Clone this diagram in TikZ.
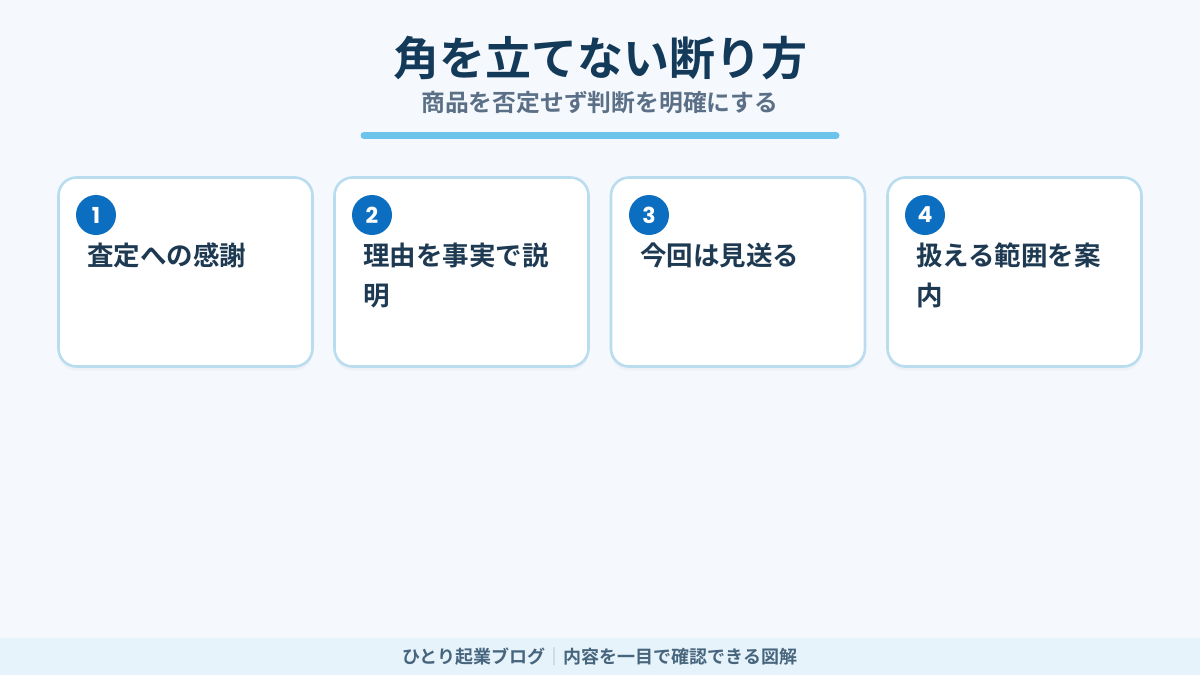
\documentclass[tikz,border=0pt]{standalone}
\usepackage{fontspec}
\setmainfont{Noto Sans CJK JP}[BoldFont={Noto Sans CJK JP Bold}]
\newfontfamily\numfont{Poppins}
\usetikzlibrary{shadows}

\definecolor{pagebg}{HTML}{F5F9FD}
\definecolor{footbg}{HTML}{E6F3FA}
\definecolor{titleblue}{HTML}{143A5A}
\definecolor{subgrey}{HTML}{5B7087}
\definecolor{barblue}{HTML}{6CC4EA}
\definecolor{cardedge}{HTML}{B9DDEE}
\definecolor{badgeblue}{HTML}{0C6EC0}
\definecolor{cardtext}{HTML}{1E3A52}
\definecolor{foottext}{HTML}{48657E}
\definecolor{footsep}{HTML}{A9BFCE}

\begin{document}
\begin{tikzpicture}[
        x=1pt, y=-1pt,
        card/.style={draw=cardedge, line width=2.6pt, fill=white, rounded corners=18pt,
            minimum width=254pt, minimum height=189pt, inner sep=0pt,
            drop shadow={opacity=0.06, shadow xshift=0pt, shadow yshift=-4pt}},
        badge/.style={circle, fill=badgeblue, minimum size=40pt, inner sep=0pt,
            text=white, font=\numfont\bfseries\fontsize{22}{22}\selectfont},
        cardlabel/.style={anchor=north west, align=left, inner sep=0pt, text=cardtext,
            font=\bfseries\fontsize{26.5}{40}\selectfont}
    ]
        % page and footer band
        \useasboundingbox (0,0) rectangle (1200,675);
        \fill[pagebg] (0,0) rectangle (1200,675);
        \fill[footbg] (0,638) rectangle (1200,675);

        % heading
        \node[text=titleblue, font=\bfseries\fontsize{46}{46}\selectfont] (title) at (600,58) {角を立てない断り方};
        \node[text=subgrey, font=\bfseries\fontsize{23.8}{23.8}\selectfont] (subtitle) at (600,103) {商品を否定せず判断を明確にする};
        \draw[barblue, line width=7pt, line cap=round] (364,135.5) -- (836,135.5);

        % four cards
        \node[card] (card1) at (185.5,272) {};
        \node[card] (card2) at (461.5,272) {};
        \node[card] (card3) at (738,272) {};
        \node[card] (card4) at (1014.5,272) {};

        % numbered badges
        \node[badge] (num1) at (96,215) {1};
        \node[badge] (num2) at (372,215) {2};
        \node[badge] (num3) at (649,215) {3};
        \node[badge] (num4) at (925,215) {4};

        % card texts
        \node[cardlabel] (step1) at (87,242.5) {査定への感謝};
        \node[cardlabel] (step2) at (363,242.5) {理由を事実で説\\明};
        \node[cardlabel] (step3) at (640,242.5) {今回は見送る};
        \node[cardlabel] (step4) at (916,242.5) {扱える範囲を案\\内};

        % footer
        \node[text=foottext, font=\bfseries\fontsize{18}{18}\selectfont] (footer) at (600,657)
            {ひとり起業ブログ\textcolor{footsep}{｜}内容を一目で確認できる図解};
    \end{tikzpicture}
\end{document}
